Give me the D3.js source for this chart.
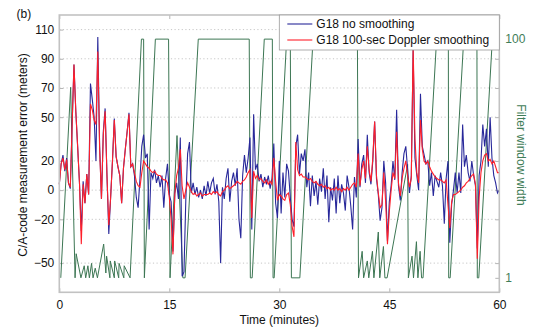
<!DOCTYPE html>
<html>
<head>
<meta charset="utf-8">
<script src="https://cdn.jsdelivr.net/npm/d3@7"></script>
<style>
  body { margin: 0; background: #fff; }
  svg { font-family: "Liberation Sans", Arial, sans-serif; }
  .ejes path { display: none; }
  .ejes line { stroke: #b4b4b4; stroke-width: 1; }
  .ejes text { font-size: 12px; fill: #111; }
  .grid line { stroke: #c6c6c6; stroke-width: 1; stroke-dasharray: 1.2 2.4; }
  .marco { fill: none; stroke: #c2c2c2; stroke-width: 1.6; }
  .labels { font-size: 12px; fill: #111; }
</style>
</head>
<body>
<div id="graf"></div>
<script>
// muestras cada 15 s (0.25 min), de 0 a 60 min
const paso = 0.25

// G18 sin suavizado (m)
const sinSuavizado = [
  4, 18, 24, 13, 22, 5, 1, 45, 86, 54, 30, 5, -28, 6, -9, 11, -3, 73, 62, 50,
  20, 105, 30, -6, 40, 56, 10, -30, -5, 20, 49, 23, 16, 10, -9, 15, 28, 40, 53, 16,
  18, 10, -5, -12, 8, 30, 38, 22, 25, -27, 12, 8, 14, 5, 10, 2, 10, -12, 8, 18,
  -3, -8, -42, -2, 5, -6, 36, -59, -56, -7, 25, 33, -2, 5, -3, 2, -5, 0, -6, 3,
  -4, 6, -2, 5, 8, -3, 4, -8, -50, 2, -6, 8, 15, -8, 6, 12, 3, 15, -20, -33,
  10, 24, 12, 22, 36, -27, 52, 14, 18, 6, 11, 2, 9, 4, 10, 1, 8, 32, -9, -19,
  20, -16, 12, -5, 18, 13, -5, -20, -25, 30, 38, 11, 25, 20, 28, 2, 12, -11, 10, -4,
  6, -10, 8, -1, 15, -6, 10, -22, 2, -7, 8, -16, 10, -9, 4, -2, -14, 10, 2, -11,
  -27, 9, -5, 35, 2, 18, 24, 5, 38, 12, 4, 20, 47, 8, -3, -21, -12, 20, 5, -35,
  -8, 3, 20, 7, 55, 3, -7, 12, 25, 30, 14, -2, 10, 96, 22, 10, 0, 66, 30, 24,
  18, 20, 3, 12, -4, 10, 6, 2, 12, 3, -23, 8, 20, -36, -10, 0, 12, -2, 12, -2,
  45, 16, 24, 12, 6, 20, 10, 3, -40, 10, 20, 45, 30, 42, 16, 50, 22, 10, 5, -2,
  0
]

// G18 con suavizado Doppler de 100 s (m)
const conSuavizado = [
  4, 18, 22, 14, 21, 5, 2, 45, 86, 54, 30, 5, -37, 4, -9, 11, -3, 59, 55, 48,
  45, 95, 28, -6, 38, 54, 10, -24, -5, 20, 48, 23, 16, 10, -9, 15, 28, 40, 52, 16,
  18, 12, 6, 3, 2, 12, 20, 18, 16, 15, 13, 12, 13, 11, 10, 10, 8, 7, 7, 5,
  -5, -20, -44, -3, 10, 15, 28, 3, -6, 0, 5, 2, -1, -3, -2, -4, -3, -2, -4, -3,
  -3, -3, -2, -3, -1, -2, -1, -3, -4, -1, 0, 2, 3, 1, 2, 3, 4, 6, 5, 4,
  6, 7, 9, 12, 14, -19, 13, 8, 10, 7, 8, 6, 5, 7, 4, 6, 4, 22, 6, -7,
  -3, -4, -6, -7, -3, -2, -10, -25, -32, 33, 14, 10, 11, 9, 9, 8, 7, 8, 6, 5,
  6, 4, 3, 4, 2, 3, 1, 2, 0, 1, 0, 2, 0, 1, -1, 1, 0, 2, 0, 2,
  4, 5, 2, 25, 3, 14, 20, 8, 30, 14, 6, 22, 47, 10, -2, -12, -10, 12, -8, -37,
  -15, 0, 12, 8, 40, 5, -4, 8, 15, 20, 10, 2, 8, 98, 35, 12, 5, 48, 28, 20,
  18, 20, 16, 13, 11, 9, 8, 7, 7, 6, 5, 7, -10, -26, -8, -3, -3, -2, -1, 0,
  2, 3, 5, 6, 8, 10, 11, 4, -47, -5, 12, 20, 24, 25, 20, 21, 18, 20, 16, 12,
  12
]

// ancho de ventana del filtro (min, muestras)
const ventanaT = [
  0.2, 1.55, 2.15, 2.3, 2.95, 3.4, 3.6, 3.9, 4.1, 4.4, 4.6, 4.9, 5.2,
  6.05, 6.35, 6.45, 6.9, 6.95, 7.5, 7.55, 8.1, 8.15, 8.8, 8.85, 9.65,
  11.2, 11.5, 11.6, 13.1, 14.9, 15.1, 16.05, 16.85, 17.15, 18.95,
  25.9, 26.05, 26.3, 27.95, 29.05, 29.15, 29.3, 31.0, 31.5, 31.65, 32.8, 34.6,
  40.65, 40.8, 41.3, 41.5, 42.0, 42.2, 42.7, 42.9, 43.5, 43.7, 44.2, 44.4, 44.7,
  47.5, 47.6, 48.1, 48.3, 48.7, 48.9, 49.2, 49.4, 49.6,
  51.45, 53.05, 53.1, 53.3, 55.15, 56.95, 57.0, 57.2, 59.05, 60
]
const ventanaN = [
  1, 80, 1, 11, 1, 6, 1, 6, 1, 7, 1, 5, 1,
  15, 3, 10, 1, 8, 1, 8, 1, 7, 1, 6, 1,
  100, 100, 1, 100, 100, 1, 60, 1, 1, 100,
  100, 1, 1, 100, 100, 1, 1, 100, 100, 1, 1, 100,
  100, 1, 12, 1, 8, 1, 12, 1, 20, 1, 14, 1, 1,
  48, 1, 10, 1, 16, 1, 12, 1, 1,
  100, 100, 1, 1, 100, 100, 1, 1, 100, 100
]

const xTicks = [0, 15, 30, 45, 60]
const yTicks = [-50, -20, 0, 20, 50, 70, 90, 110]
const ventanaTicks = [1, 100]

const margins = { left: 59.3, top: 15, right: 40.7, bottom: 39.7 }
const anchoTotal = 540
const altoTotal = 332
const ancho = anchoTotal - margins.left - margins.right
const alto = altoTotal - margins.top - margins.bottom

const svg = d3.select("#graf")
  .append("svg")
  .attr("width", anchoTotal)
  .attr("height", altoTotal)

const g = svg.append("g")
  .attr("transform", `translate(${margins.left}, ${margins.top})`)

const x = d3.scaleLinear().domain([0, 60]).range([0, ancho])
const y = d3.scaleLinear().domain([-70, 120]).range([alto, 0])
const yVentana = d3.scaleLinear().domain([-5, 110]).range([alto, 0])

// rejilla punteada
g.append("g").attr("class", "grid")
  .selectAll("line")
  .data(yTicks)
  .join("line")
  .attr("x1", 0).attr("x2", ancho)
  .attr("y1", (d) => y(d)).attr("y2", (d) => y(d))

// ejes con marcas hacia dentro
g.append("g").attr("class", "ejes")
  .attr("transform", `translate(0, ${alto})`)
  .call(d3.axisBottom(x).tickValues(xTicks).tickSizeInner(-4).tickSizeOuter(0).tickPadding(8))
g.append("g").attr("class", "ejes")
  .call(d3.axisTop(x).tickValues(xTicks).tickSizeInner(-4).tickSizeOuter(0).tickFormat(""))
g.append("g").attr("class", "ejes")
  .call(d3.axisLeft(y).tickValues(yTicks).tickSizeInner(-4).tickSizeOuter(0).tickPadding(5))
g.append("g").attr("class", "ejes")
  .attr("transform", `translate(${ancho}, 0)`)
  .call(d3.axisRight(y).tickValues(yTicks).tickSizeInner(-4).tickSizeOuter(0).tickFormat(""))

const ejeVentana = g.append("g").attr("class", "ejes")
  .attr("transform", `translate(${ancho}, 0)`)
  .call(d3.axisRight(yVentana).tickValues(ventanaTicks).tickSizeInner(-4).tickSizeOuter(0).tickPadding(6))
ejeVentana.selectAll("text").style("fill", "#3f7d58")

// series
const ventana = ventanaT.map((t, i) => ({ t: t, n: ventanaN[i] }))
const linea = d3.line().x((d, i) => x(i * paso)).y((d) => y(d))

g.append("path")
  .datum(ventana)
  .attr("fill", "none")
  .attr("stroke", "#3c7653")
  .attr("stroke-width", 1)
  .attr("d", d3.line().x((d) => x(d.t)).y((d) => yVentana(d.n)))

g.append("path")
  .datum(sinSuavizado)
  .attr("fill", "none")
  .attr("stroke", "#28289a")
  .attr("stroke-width", 1.1)
  .attr("d", linea)

g.append("path")
  .datum(conSuavizado)
  .attr("fill", "none")
  .attr("stroke", "#ff1f2a")
  .attr("stroke-width", 1.1)
  .attr("d", linea)

g.append("rect")
  .attr("class", "marco")
  .attr("width", ancho)
  .attr("height", alto)

// leyenda
const leyenda = g.append("g").attr("transform", `translate(${ancho - 220}, 0)`)
leyenda.append("rect")
  .attr("width", 220).attr("height", 35)
  .attr("fill", "#fff").attr("stroke", "#9a9a9a").attr("stroke-width", 0.8)
const items = [
  { nombre: "G18 no smoothing", color: "#28289a" },
  { nombre: "G18 100-sec Doppler smoothing", color: "#ff1f2a" }
]
items.forEach((d, i) => {
  const fila = 9 + i * 16
  leyenda.append("line")
    .attr("x1", 8).attr("x2", 33)
    .attr("y1", fila).attr("y2", fila)
    .attr("stroke", d.color).attr("stroke-width", 1.1)
  leyenda.append("text")
    .attr("x", 37).attr("y", fila + 4.3)
    .attr("class", "labels")
    .text(d.nombre)
})

// titulos
svg.append("text")
  .attr("class", "labels")
  .attr("text-anchor", "middle")
  .attr("transform", "translate(26.5, 155) rotate(-90)")
  .text("C/A-code measurement error (meters)")

svg.append("text")
  .attr("class", "labels")
  .attr("text-anchor", "middle")
  .attr("transform", "translate(517, 155) rotate(90)")
  .style("fill", "#3f7d58")
  .text("Filter window width")

svg.append("text")
  .attr("class", "labels")
  .attr("text-anchor", "middle")
  .attr("x", margins.left + ancho / 2)
  .attr("y", 323.5)
  .text("Time (minutes)")

svg.append("text")
  .attr("class", "labels")
  .attr("x", 16.5)
  .attr("y", 17.6)
  .text("(b)")
</script>
</body>
</html>
